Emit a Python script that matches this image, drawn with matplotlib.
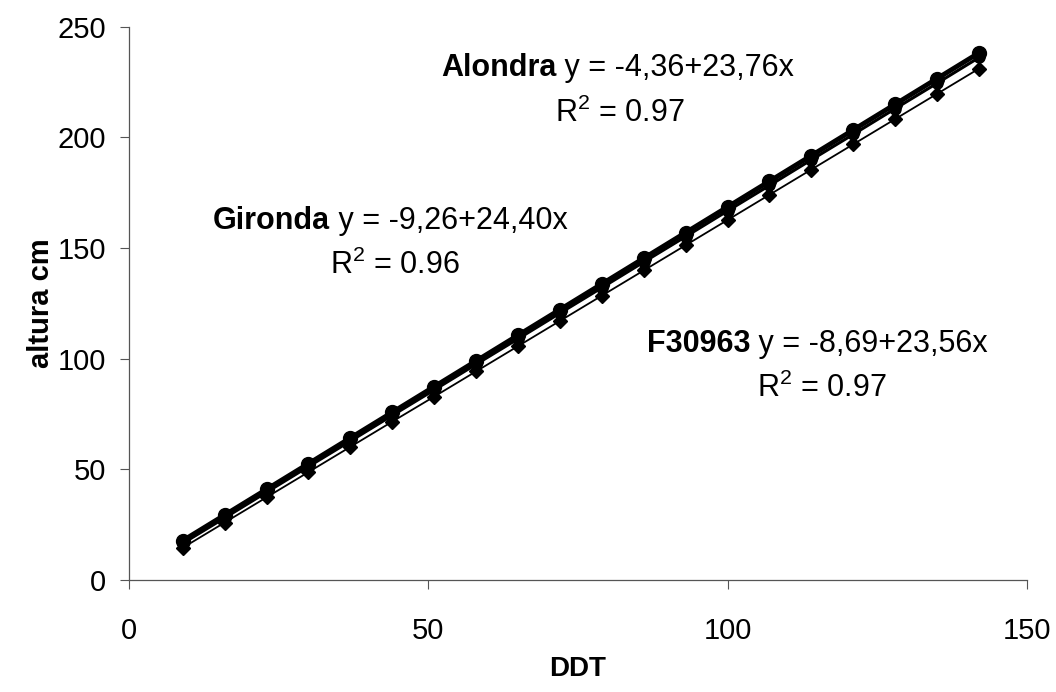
import numpy as np
from matplotlib import pyplot as plt

plt.rcParams['font.family'] = ['Liberation Sans', 'DejaVu Sans']
plt.rcParams['mathtext.fontset'] = 'custom'
plt.rcParams['mathtext.rm'] = 'Liberation Sans'

# DDT values at each measurement
ddt = [9, 16, 23, 30, 37, 44, 51, 58, 65, 72, 79, 86, 93, 100, 107, 114, 121, 128, 135, 142]

# altura (cm) per cultivar
alondra = [17.7, 29.3, 40.9, 52.5, 64.1, 75.7, 87.3, 98.9, 110.5, 122.1,
           133.7, 145.3, 156.9, 168.5, 180.1, 191.7, 203.3, 214.9, 226.5, 238.1]
gironda = [16.5, 28.0, 39.6, 51.2, 62.7, 74.3, 85.8, 97.4, 108.9, 120.5,
           132.0, 143.6, 155.1, 166.7, 178.2, 189.8, 201.3, 212.9, 224.4, 236.0]
f30963 = [14.5, 25.9, 37.3, 48.7, 60.1, 71.5, 82.8, 94.2, 105.6, 117.0,
          128.4, 139.8, 151.2, 162.6, 174.0, 185.4, 196.8, 208.2, 219.6, 231.0]

labels = ['Alondra', 'Gironda', 'F30963']
equations = [' y = -4,36+23,76x', ' y = -9,26+24,40x', ' y = -8,69+23,56x']
r2_values = ['0.97', '0.96', '0.97']

fig = plt.figure(figsize=(10.56, 6.92), dpi=100)
ax = fig.add_axes([0.122, 0.162, 0.8505, 0.7997])

ax.plot(ddt, f30963, color='black', lw=1.3, marker='D', markersize=7, zorder=2)
ax.plot(ddt, gironda, color='black', lw=2.2, marker='o', markersize=8, zorder=3)
ax.plot(ddt, alondra, color='black', lw=3.5, marker='o', markersize=10, zorder=4)

ax.set_xlim(0, 150)
ax.set_ylim(0, 250)
ax.set_xticks([0, 50, 100, 150])
ax.set_yticks([0, 50, 100, 150, 200, 250])
ax.tick_params(direction='out', length=6.5, width=0.8, color='#555555', labelsize=21)
ax.tick_params(axis='y', pad=10)
ax.tick_params(axis='x', pad=20)
for side in ['top', 'right']:
    ax.spines[side].set_visible(False)
for side in ['left', 'bottom']:
    ax.spines[side].set_color('#555555')
    ax.spines[side].set_linewidth(0.9)

ax.set_xlabel('DDT', fontsize=20, fontweight='bold', labelpad=8)
ax.set_ylabel('altura cm', fontsize=21, fontweight='bold', labelpad=2)

# equation annotations: bold name + regular equation, R² below (baselines)
eq_pos = [(52.1, 227.8), (14.0, 158.5), (86.5, 102.8)]
r2_pos = [(82.0, 207.0), (44.4, 138.0), (115.7, 82.4)]
for name, eq, r2, (ex, ey), (rx, ry) in zip(labels, equations, r2_values, eq_pos, r2_pos):
    t = ax.text(ex, ey, name, fontsize=22, fontweight='bold', ha='left', va='baseline')
    ax.annotate(eq, xy=(1, 0), xycoords=t, va='bottom', ha='left', fontsize=22)
    ax.text(rx, ry, 'R$^{2}$ = ' + r2, fontsize=22, ha='center', va='baseline')

fig.savefig('out.png', dpi=100)
